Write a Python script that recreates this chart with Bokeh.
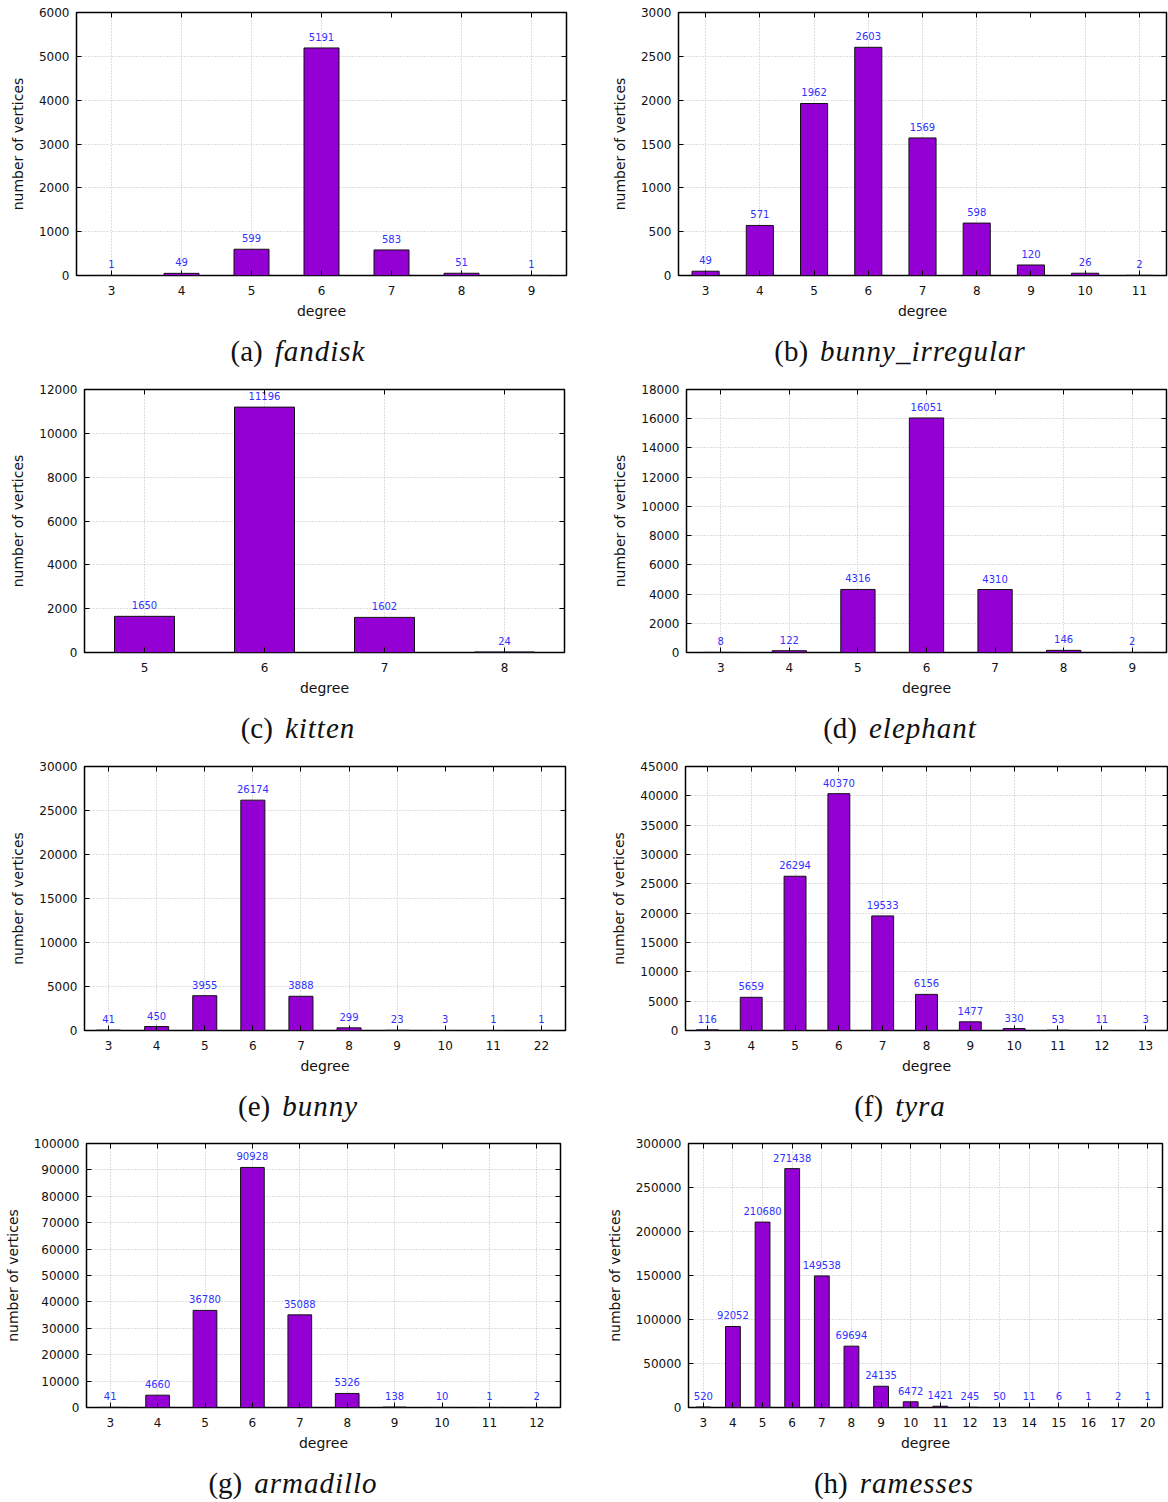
from bokeh.plotting import figure
from bokeh.models import (Range1d, FactorRange, FixedTicker, LinearAxis, CategoricalAxis,
                          BasicTickFormatter, Div, ColumnDataSource)
from bokeh.layouts import row, column
from bokeh.embed import file_html
from bokeh.resources import INLINE
from bokeh.core.properties import value

# ---------------- data ----------------
letters = ["a", "b", "c", "d", "e", "f", "g", "h"]
names = ["fandisk", "bunny_irregular", "kitten", "elephant", "bunny", "tyra", "armadillo", "ramesses"]

deg_fandisk = [3, 4, 5, 6, 7, 8, 9]
cnt_fandisk = [1, 49, 599, 5191, 583, 51, 1]

deg_bunny_irr = [3, 4, 5, 6, 7, 8, 9, 10, 11]
cnt_bunny_irr = [49, 571, 1962, 2603, 1569, 598, 120, 26, 2]

deg_kitten = [5, 6, 7, 8]
cnt_kitten = [1650, 11196, 1602, 24]

deg_elephant = [3, 4, 5, 6, 7, 8, 9]
cnt_elephant = [8, 122, 4316, 16051, 4310, 146, 2]

deg_bunny = [3, 4, 5, 6, 7, 8, 9, 10, 11, 22]
cnt_bunny = [41, 450, 3955, 26174, 3888, 299, 23, 3, 1, 1]

deg_tyra = [3, 4, 5, 6, 7, 8, 9, 10, 11, 12, 13]
cnt_tyra = [116, 5659, 26294, 40370, 19533, 6156, 1477, 330, 53, 11, 3]

deg_armadillo = [3, 4, 5, 6, 7, 8, 9, 10, 11, 12]
cnt_armadillo = [41, 4660, 36780, 90928, 35088, 5326, 138, 10, 1, 2]

deg_ramesses = [3, 4, 5, 6, 7, 8, 9, 10, 11, 12, 13, 14, 15, 16, 17, 20]
cnt_ramesses = [520, 92052, 210680, 271438, 149538, 69694, 24135, 6472, 1421, 245, 50, 11, 6, 1, 2, 1]

# y axis ranges / tick steps
y_max = [6000, 3000, 12000, 18000, 30000, 45000, 100000, 300000]
y_step = [1000, 500, 2000, 2000, 5000, 5000, 10000, 50000]

degrees = [deg_fandisk, deg_bunny_irr, deg_kitten, deg_elephant, deg_bunny, deg_tyra, deg_armadillo, deg_ramesses]
counts = [cnt_fandisk, cnt_bunny_irr, cnt_kitten, cnt_elephant, cnt_bunny, cnt_tyra, cnt_armadillo, cnt_ramesses]

# ---------------- layout ----------------
COL_W = [584, 584]
COL_X = [0, 584]
frame_l = [76, 678, 84, 686, 84, 685, 86, 688]
frame_r = [566, 1166, 564, 1166, 565, 1167, 560, 1162]
row_mbt = [12, 12, 12, 12]
row_fh = [263, 263, 264, 264]
row_div_h = [47, 47, 46, 38]
cap_center = [298, 900, 298, 900, 298, 900, 293, 894]
ylab_standoff = [10, 10, 10, 10, 10, 10, 10, 10]
MBB = 55

BAR = "#9400d3"
TXT = "#111111"
FONT = "DejaVu Sans"


def style_axis(ax, show_labels=True):
    ax.axis_line_color = None
    ax.major_tick_in = 5
    ax.major_tick_out = 0
    ax.major_tick_line_color = "black"
    ax.major_tick_line_width = 1
    ax.minor_tick_line_color = None
    if show_labels:
        ax.major_label_text_font = FONT
        ax.major_label_text_font_size = "12px"
        ax.major_label_text_color = TXT
        ax.major_label_standoff = 7
    else:
        ax.major_label_text_font_size = "0px"
        ax.major_label_text_color = None
        ax.major_label_standoff = 0


def make_panel(i):
    col = i % 2
    r = i // 2
    cats = [str(d) for d in degrees[i]]
    width = COL_W[col]
    mbl = frame_l[i] - COL_X[col]
    mbr = COL_X[col] + width - frame_r[i]
    mbt = row_mbt[r]
    fh = row_fh[r]
    p = figure(x_range=FactorRange(factors=cats), y_range=Range1d(0, y_max[i]),
               width=width, height=mbt + fh + MBB,
               output_backend="svg", toolbar_location=None,
               min_border_left=mbl, min_border_right=mbr,
               min_border_top=mbt, min_border_bottom=MBB)
    p.x_range.range_padding = 0
    p.background_fill_color = "white"
    p.border_fill_color = "white"
    p.outline_line_color = "black"
    p.outline_line_alpha = 1.0
    p.outline_line_width = 1.5

    ticks = FixedTicker(ticks=list(range(0, y_max[i] + 1, y_step[i])))
    fmt = BasicTickFormatter(use_scientific=False)
    p.yaxis.ticker = ticks
    p.yaxis.formatter = fmt
    p.ygrid.ticker = ticks

    for g in (p.xgrid, p.ygrid):
        g.grid_line_color = "#bdbdbd"
        g.grid_line_dash = "1 2"
        g.grid_line_width = 1

    xa = p.xaxis[0]
    ya = p.yaxis[0]
    style_axis(xa)
    style_axis(ya)
    xa.major_label_standoff = 10
    xa.axis_label = "degree"
    ya.axis_label = "number of vertices"
    for ax in (xa, ya):
        ax.axis_label_text_font = FONT
        ax.axis_label_text_font_size = "14px"
        ax.axis_label_text_font_style = "normal"
        ax.axis_label_text_color = TXT
    xa.axis_label_standoff = 5
    ya.axis_label_standoff = ylab_standoff[i]

    top = CategoricalAxis()
    style_axis(top, show_labels=False)
    p.add_layout(top, "above")
    right = LinearAxis(ticker=ticks, formatter=fmt)
    style_axis(right, show_labels=False)
    p.add_layout(right, "right")

    src = ColumnDataSource(data=dict(x=cats, top=counts[i], label=[str(v) for v in counts[i]]))
    p.vbar(x="x", top="top", width=0.5, source=src,
           fill_color=BAR, line_color="#111111", line_width=1)
    p.text(x="x", y="top", text="label", source=src,
           text_font=value(FONT), text_font_size="10px", text_color="#3030ff",
           text_align="center", text_baseline="bottom", y_offset=-7)

    ml = cap_center[i] - COL_X[col] - 200
    html = (f'<div style="margin-left:{ml}px;width:400px;text-align:center;'
            f"font-family:'Liberation Serif';font-size:29px;line-height:29px;"
            f'padding-top:7px;color:#111;white-space:nowrap">'
            f'({letters[i]})<i style="margin-left:12px;letter-spacing:1px">{names[i]}</i></div>')
    cap = Div(text=html, width=width, height=row_div_h[r], margin=0)
    return column(p, cap, spacing=0)


rows = []
for r in range(4):
    rows.append(row(make_panel(2 * r), make_panel(2 * r + 1), spacing=0))
layout = column(*rows, spacing=0)

open("out.html", "w").write(file_html(layout, INLINE))
